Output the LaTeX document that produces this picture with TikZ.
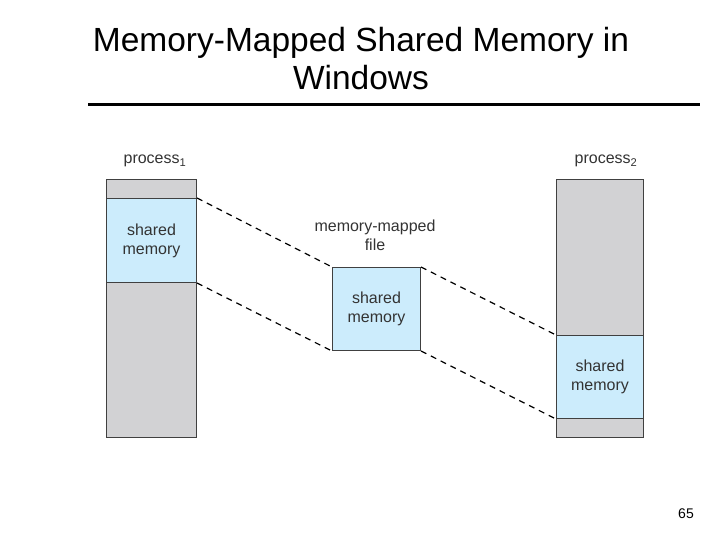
\documentclass[tikz,border=0pt]{standalone}
\usepackage{fontspec}
\setmainfont{Liberation Sans}
\definecolor{memblue}{RGB}{204,236,252}
\definecolor{memgray}{RGB}{210,210,212}
\begin{document}
\begin{tikzpicture}[x=1pt,y=-1pt,
  col/.style={draw=black!75,fill=memgray,line width=1pt,inner sep=0pt,anchor=north west},
  shm/.style={draw=black!75,fill=memblue,line width=1pt,inner sep=0pt,anchor=north west,align=center,font=\fontsize{16}{19}\selectfont,text=black!80},
  lbl/.style={font=\fontsize{16}{19}\selectfont,text=black!80,align=center},
  link/.style={line width=1.2pt,dash pattern=on 6pt off 5pt}]
\useasboundingbox (0,0) rectangle (720,540);
\node[font=\fontsize{33.5}{38}\selectfont,align=center] (title) at (361,59) {Memory-Mapped Shared Memory in\\Windows};
\draw[line width=3pt] (88,105) coordinate (r1) -- (700,105) coordinate (r2);
% process 1
\node[col,minimum width=90pt,minimum height=258pt] (p1) at (106,179) {};
\node[shm,minimum width=90pt,minimum height=84pt] (s1) at (106,198) {shared\\memory};
\node[lbl] (l1) at (155,161) {process\textsubscript{1}};
% process 2
\node[col,minimum width=87pt,minimum height=258pt] (p2) at (556,179) {};
\node[shm,minimum width=87pt,minimum height=83pt] (s2) at (556,335) {shared\\memory};
\node[lbl] (l2) at (606,161) {process\textsubscript{2}};
% file
\node[shm,minimum width=88pt,minimum height=83pt] (s3) at (332,267) {shared\\memory};
\node[lbl] (l3) at (375,235) {memory-mapped\\file};
\draw[link] (s1.north east) -- (s3.north west);
\draw[link] (s1.south east) -- (s3.south west);
\draw[link] (s3.north east) -- (s2.north west);
\draw[link] (s3.south east) -- (s2.south west);
\node[font=\fontsize{14}{16}\selectfont] (pg) at (686,514) {65};
\end{tikzpicture}
\end{document}
